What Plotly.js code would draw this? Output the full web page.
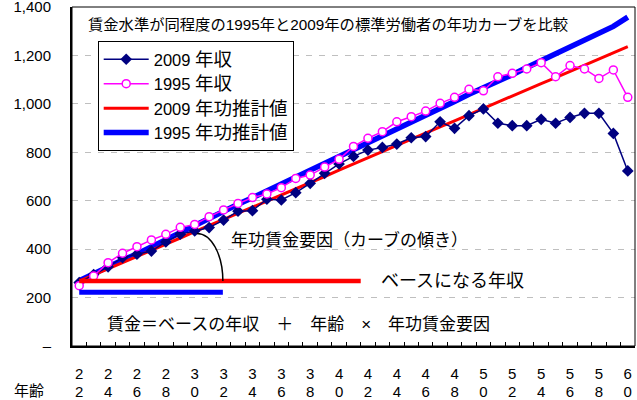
<!DOCTYPE html>
<html><head><meta charset="utf-8">
<script src="https://cdn.plot.ly/plotly-3.0.1.min.js"></script>
<style>html,body{margin:0;padding:0;background:#fff;} #chart{width:637px;height:400px;}</style>
</head><body><div id="chart"></div>
<script>
// ---- data ----
const ages = [22,23,24,25,26,27,28,29,30,31,32,33,34,35,36,37,38,39,40,41,42,43,44,45,46,47,48,49,50,51,52,53,54,55,56,57,58,59,60];
const wage2009 = [262,295,327,365,379,392,430,462,475,489,520,557,559,606,603,633,672,713,752,783,809,820,834,860,865,926,899,951,979,920,910,910,936,920,944,961,961,878,723];
const wage1995 = [249,289,344,383,410,438,461,490,502,534,562,589,613,628,654,692,706,739,771,824,858,885,926,947,970,1002,1027,1060,1054,1112,1126,1144,1170,1112,1158,1144,1105,1140,1027];
const trend2009 = [268,293,318,345,370,395,420,446,472,497,522,548,573,598,625,650,675,700,726,752,778,803,828,855,880,905,930,956,982,1006,1032,1058,1084,1108,1134,1160,1185,1210,1236];
const trend1995 = [270,300,330,355,380,410,440,468,495,525,555,585,612,640,668,698,725,752,782,810,838,866,895,925,952,980,1010,1040,1065,1092,1120,1150,1178,1205,1235,1262,1290,1320,1358];
const baseRedX = [22, 41.5], baseRedY = [268, 268];
const baseBlueX = [22, 31.95], baseBlueY = [222, 222];
const arcStart = [30.15, 465], arcEnd = [31.95, 268];
const labelAges = [22,24,26,28,30,32,34,36,38,40,42,44,46,48,50,52,54,56,58,60];
const labelRow1 = ['2','2','2','2','3','3','3','3','3','4','4','4','4','4','5','5','5','5','5','6'];
const labelRow2 = ['2','4','6','8','0','2','4','6','8','0','2','4','6','8','0','2','4','6','8','0'];
const yTickVals = [0,200,400,600,800,1000,1200,1400];
const yTickText = ['–','200','400','600','800','1,000','1,200','1,400'];
const seriesYears = ['2009','1995','2009','1995'];
const seriesKinds = ['年収','年収','年功推計値','年功推計値'];

const FONT = 'Liberation Sans, Arial, Noto Sans CJK JP, sans-serif';
const XR = [21.5, 60.5];
const L = 72, R = 635, T = 7, B = 346;
const px = (x) => (x - L) / (R - L);
const py = (y) => (B - y) / (B - T);
const legName = (i) => `${seriesYears[i]} <span style="font-size:18.5px">${seriesKinds[i]}</span>`;

const traces = [
  {x: ages, y: trend1995, name: legName(3), mode: 'lines', line: {color: '#0000FF', width: 5.5}, legendrank: 4},
  {x: ages, y: trend2009, name: legName(2), mode: 'lines', line: {color: '#FF0000', width: 3}, legendrank: 3},
  {x: ages, y: wage2009, name: legName(0), mode: 'lines+markers', line: {color: '#000080', width: 1.5},
   marker: {symbol: 'diamond', size: 9, color: '#000080'}, legendrank: 1},
  {x: ages, y: wage1995, name: legName(1), mode: 'lines+markers', line: {color: '#FF00FF', width: 1.5},
   marker: {symbol: 'circle', size: 8, color: '#FFFFFF', line: {color: '#FF00FF', width: 1.5}}, legendrank: 2},
  {x: baseRedX, y: baseRedY, mode: 'lines', line: {color: '#FF0000', width: 4.5}, showlegend: false, hoverinfo: 'skip'},
  {x: baseBlueX, y: baseBlueY, mode: 'lines', line: {color: '#0000FF', width: 5}, showlegend: false, hoverinfo: 'skip'},
  {x: labelAges, y: labelAges.map(() => null), xaxis: 'x2', mode: 'markers', showlegend: false, hoverinfo: 'skip'},
  {x: labelAges, y: labelAges.map(() => null), xaxis: 'x3', mode: 'markers', showlegend: false, hoverinfo: 'skip'}
];

const tickFont = {family: FONT, size: 15, color: '#000'};
const layout = {
  width: 637, height: 400,
  margin: {l: L, r: 637 - R, t: T, b: 400 - B},
  paper_bgcolor: '#fff', plot_bgcolor: '#fff',
  font: {family: FONT, color: '#000'},
  showlegend: true,
  legend: {x: px(97.7), y: py(41), xanchor: 'left', yanchor: 'top', bgcolor: '#fff',
           bordercolor: '#000', borderwidth: 1, font: {family: FONT, size: 16.5, color: '#000'},
           itemwidth: 45, tracegroupgap: 0},
  xaxis: {range: XR, showgrid: false, zeroline: false, showline: true, linecolor: '#000', linewidth: 2,
          tickmode: 'array', tickvals: ages.map(a => a - 0.5).concat([60.5]), ticks: 'inside', ticklen: 4,
          tickwidth: 1, tickcolor: '#000', showticklabels: false, fixedrange: true},
  xaxis2: {overlaying: 'x', anchor: 'y', side: 'bottom', range: XR, showgrid: false, zeroline: false, showline: false,
           tickmode: 'array', tickvals: labelAges, ticktext: labelRow1, ticks: '', ticklabelstandoff: 17, tickfont: tickFont, fixedrange: true},
  xaxis3: {overlaying: 'x', anchor: 'y', side: 'bottom', range: XR, showgrid: false, zeroline: false, showline: false,
           tickmode: 'array', tickvals: labelAges, ticktext: labelRow2, ticks: '', ticklabelstandoff: 35, tickfont: tickFont,
           ticklabeloverflow: 'allow', fixedrange: true},
  yaxis: {range: [0, 1400], tickmode: 'array', tickvals: yTickVals, ticktext: yTickText, showgrid: true,
          gridcolor: '#BFBFBF', gridwidth: 1, griddash: '6px,7px', zeroline: false, showline: true,
          linecolor: '#000', linewidth: 2, ticks: '', ticklabelstandoff: 16, ticklabelshift: -3.5, tickfont: tickFont,
          ticklabeloverflow: 'allow', fixedrange: true},
  shapes: [
    {type: 'rect', xref: 'paper', yref: 'paper', x0: 0, x1: 1, y0: 0, y1: 1, line: {color: '#000', width: 1}},
    {type: 'path', xref: 'x', yref: 'y', line: {color: '#000', width: 1.5},
     path: `M ${arcStart[0]},${arcStart[1]} C ${arcStart[0] + 1.0},${arcStart[1]} ${arcEnd[0]},${arcEnd[1] + 110} ${arcEnd[0]},${arcEnd[1]}`}
  ],
  annotations: [
    {text: '賃金水準が同程度の1995年と2009年の標準労働者の年功カーブを比較', xref: 'paper', yref: 'paper',
     x: px(86), y: py(25), xanchor: 'left', yanchor: 'middle', showarrow: false, font: {family: FONT, size: 15.3}},
    {text: '年功賃金要因（カーブの傾き）', xref: 'paper', yref: 'paper',
     x: px(229), y: py(240), xanchor: 'left', yanchor: 'middle', showarrow: false, font: {family: FONT, size: 17}},
    {text: 'ベースになる年収', xref: 'paper', yref: 'paper',
     x: px(379), y: py(281), xanchor: 'left', yanchor: 'middle', showarrow: false, font: {family: FONT, size: 18}},
    {text: '賃金＝ベースの年収　＋　年齢　×　年功賃金要因', xref: 'paper', yref: 'paper',
     x: px(105), y: py(324), xanchor: 'left', yanchor: 'middle', showarrow: false, font: {family: FONT, size: 17}},
    {text: '年齢', xref: 'paper', yref: 'paper',
     x: px(12), y: py(390), xanchor: 'left', yanchor: 'middle', showarrow: false, font: {family: FONT, size: 15}}
  ]
};

Plotly.newPlot('chart', traces, layout, {staticPlot: true, displayModeBar: false});
</script></body></html>
